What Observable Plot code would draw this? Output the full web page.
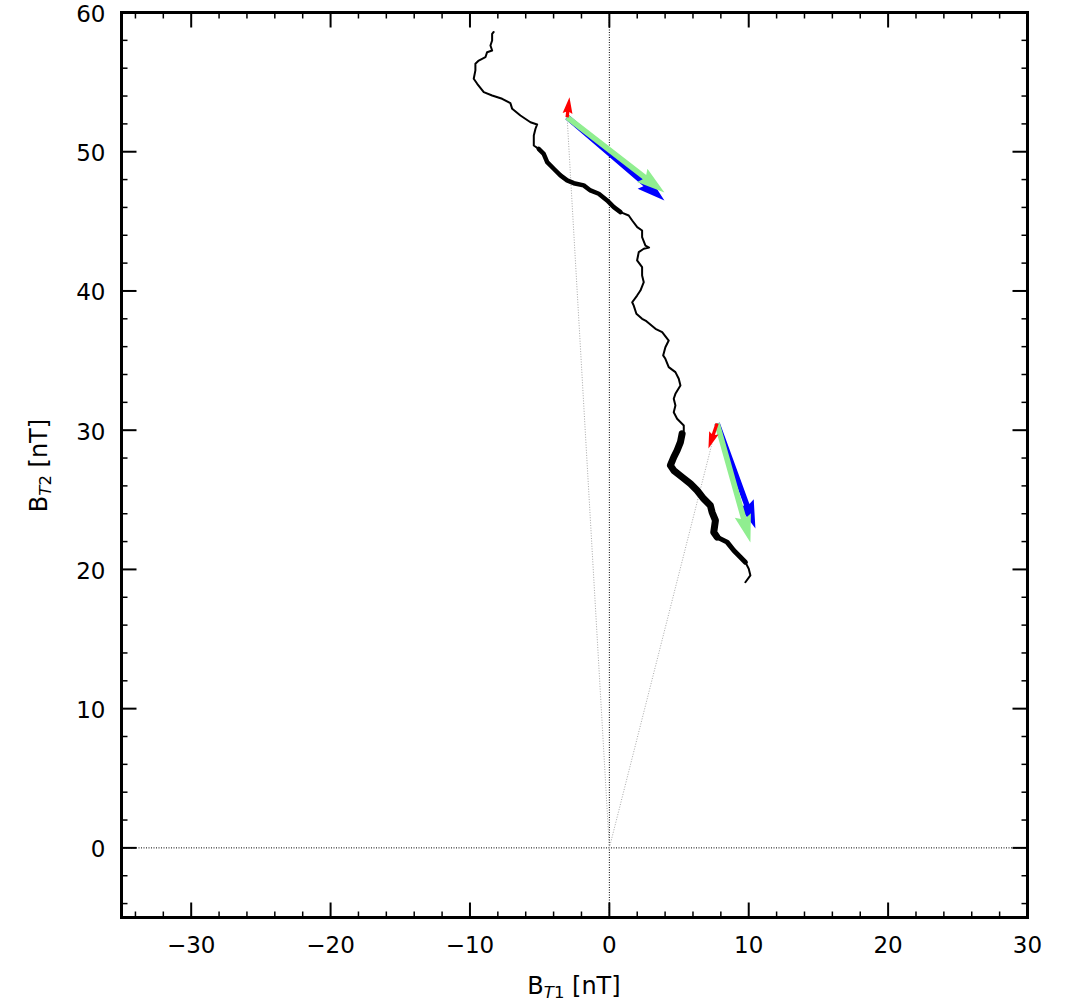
<!DOCTYPE html>
<html><head><meta charset="utf-8">
<script src="https://cdn.jsdelivr.net/npm/d3@7"></script>
<script src="https://cdn.jsdelivr.net/npm/@observablehq/plot@0.6"></script>
<style>
body{margin:0;background:#fff;}
#chart svg{display:block;}
</style></head><body><div id="chart"></div>
<script>
// ---- data ----
const trajX = [-8.30,-8.41,-8.41,-8.53,-8.41,-8.77,-8.89,-9.37,-9.61,-9.61,-9.73,-9.48,-9.01,-8.41,-7.69,-7.10,-6.97,-6.38,-5.66,-5.18,-5.30,-5.42,-5.42,-5.07,-4.71,-4.46,-3.99,-3.51,-3.03,-2.55,-1.84,-1.36,-0.76,-0.16,0.32,0.80,1.39,1.64,2.00,2.35,2.35,2.59,2.85,2.47,2.11,1.99,2.35,2.35,2.47,2.23,1.99,1.64,1.75,1.94,2.35,2.66,3.31,3.79,4.26,4.02,3.86,4.02,4.26,4.74,4.98,5.10,4.74,4.62,4.74,4.62,4.86,5.34,5.34,5.22,5.10,4.86,4.62,4.38,4.62,5.22,5.82,6.30,6.77,7.25,7.37,7.61,7.49,7.73,8.45,8.93,9.41,9.76,10.00,10.12,9.76];
const trajY = [58.60,58.47,57.99,57.63,57.27,57.15,56.79,56.55,56.32,55.84,55.24,54.88,54.28,54.04,53.80,53.49,53.08,52.60,52.12,51.96,51.65,51.17,50.45,50.21,49.85,49.25,48.78,48.30,47.94,47.74,47.58,47.22,46.98,46.50,46.02,45.66,45.42,45.06,44.58,44.34,43.86,43.26,43.12,43.03,42.79,42.19,41.71,41.11,40.63,40.03,39.67,39.19,38.95,38.36,38.00,37.83,37.28,37.04,36.44,35.96,35.37,35.13,34.53,34.17,33.69,33.21,32.61,32.26,31.78,31.29,30.82,30.34,29.98,29.74,29.14,28.54,28.06,27.47,27.11,26.63,26.15,25.67,25.07,24.59,24.11,23.52,22.67,22.32,21.96,21.36,20.88,20.52,20.05,19.57,19.08];
// index ranges of the marker-dense (thick) stretches
const thickSeg1 = [23, 35];
const thickSeg2 = [73, 87];
const thickSeg3 = [87, 91];

const arrowOriginX = [-3.03, 7.73];
const arrowOriginY = [52.48, 30.48];
const redTipX = [-2.86, 7.11];
const redTipY = [53.92, 28.69];
const blueTipX = [3.95, 10.48];
const blueTipY = [46.50, 22.94];
const greenTipX = [3.95, 10.12];
const greenTipY = [47.07, 21.93];

const xTicks = [-30, -20, -10, 0, 10, 20, 30];
const yTicks = [0, 10, 20, 30, 40, 50, 60];
const xDomain = [-35, 30];
const yDomain = [-5, 60];

// ---- layout ----
const W = 1072, H = 1003;
const mL = 121, mR = 45, mT = 12, mB = 86;
const kx = (W - mL - mR) / (xDomain[1] - xDomain[0]); // px per data unit

const traj = trajX.map((x, i) => ({x, y: trajY[i]}));
const seg = ([a, b]) => traj.slice(a, b + 1);

// quiver-style arrow outline (headwidth 3, headlength 5, headaxislength 4.5 shaft widths)
function arrowPoly(id, x0, y0, x1, y1, wpx) {
  let w = wpx / kx;
  const dx = x1 - x0, dy = y1 - y0, L = Math.hypot(dx, dy);
  if (L < 5 * w) w *= L / (5 * w);
  const ux = dx / L, uy = dy / L, vx = -uy, vy = ux;
  const hl = 5 * w, hal = 4.5 * w, hw = 1.5 * w, sw = w / 2;
  const pts = [[0, -sw], [L - hal, -sw], [L - hl, -hw], [L, 0], [L - hl, hw], [L - hal, sw], [0, sw]];
  return pts.map(([a, b]) => ({id, x: x0 + a * ux + b * vx, y: y0 + a * uy + b * vy}));
}
const arrows = (tx, ty, wpx, tag) => arrowOriginX.flatMap((x0, i) => arrowPoly(tag + i, x0, arrowOriginY[i], tx[i], ty[i], wpx));
const blueArrows = arrows(blueTipX, blueTipY, 5.6, "b");
const greenArrows = arrows(greenTipX, greenTipY, 5.6, "g");
const redArrows = arrows(redTipX, redTipY, 3.3, "r");

const guides = arrowOriginX.map((x, i) => ({x1: 0, y1: 0, x2: x, y2: arrowOriginY[i]}));

const minorX = d3.range(-34, 31, 2).filter(v => !xTicks.includes(v));
const minorY = d3.range(-4, 61, 2).filter(v => !yTicks.includes(v));
const sym = (dx, dy) => ({draw(ctx) { ctx.moveTo(0, 0); ctx.lineTo(dx, dy); }});
const MAJ = 15, MIN = 6;
const tickMarks = (vals, len, sw) => [
  Plot.dot(vals, {x: d => d, y: yDomain[0], symbol: sym(0, -len), fill: "none", stroke: "black", strokeWidth: sw}),
  Plot.dot(vals, {x: d => d, y: yDomain[1], symbol: sym(0, len), fill: "none", stroke: "black", strokeWidth: sw})
];
const tickMarksY = (vals, len, sw) => [
  Plot.dot(vals, {y: d => d, x: xDomain[0], symbol: sym(len, 0), fill: "none", stroke: "black", strokeWidth: sw}),
  Plot.dot(vals, {y: d => d, x: xDomain[1], symbol: sym(-len, 0), fill: "none", stroke: "black", strokeWidth: sw})
];
const fmt = d => d < 0 ? "\u2212" + Math.abs(d) : String(d);

const chart = Plot.plot({
  width: W, height: H,
  marginLeft: mL, marginRight: mR, marginTop: mT, marginBottom: mB,
  x: {domain: xDomain},
  y: {domain: yDomain},
  style: {fontFamily: "DejaVu Sans", fontSize: "23px", color: "black", background: "white"},
  marks: [
    Plot.ruleY([0], {stroke: "black", strokeWidth: 1, strokeDasharray: "1,1.5"}),
    Plot.ruleX([0], {stroke: "black", strokeWidth: 1, strokeDasharray: "1,1.5"}),
    Plot.link(guides, {x1: "x1", y1: "y1", x2: "x2", y2: "y2", stroke: "#a8a8a8", strokeWidth: 1, strokeDasharray: "1,1.6"}),
    Plot.line(traj, {x: "x", y: "y", stroke: "black", strokeWidth: 2}),
    Plot.line(seg(thickSeg1), {x: "x", y: "y", stroke: "black", strokeWidth: 4.5, strokeLinecap: "round"}),
    Plot.line(seg(thickSeg2), {x: "x", y: "y", stroke: "black", strokeWidth: 7, strokeLinecap: "round"}),
    Plot.line(seg(thickSeg3), {x: "x", y: "y", stroke: "black", strokeWidth: 5, strokeLinecap: "round"}),
    Plot.line(blueArrows, {x: "x", y: "y", z: "id", fill: "#0000ff", stroke: "none"}),
    Plot.line(greenArrows, {x: "x", y: "y", z: "id", fill: "#90ee90", stroke: "none"}),
    Plot.line(redArrows, {x: "x", y: "y", z: "id", fill: "#ff0000", stroke: "none"}),
    ...tickMarks(minorX, MIN, 1.5),
    ...tickMarks(xTicks, MAJ, 2),
    ...tickMarksY(minorY, MIN, 1.5),
    ...tickMarksY(yTicks, MAJ, 2),
    Plot.frame({stroke: "black", strokeWidth: 3}),
    Plot.axisX({ticks: xTicks, tickSize: 0, tickPadding: 19, tickFormat: fmt, label: null, fontSize: 23}),
    Plot.axisY({ticks: yTicks, tickSize: 0, tickPadding: 16, tickFormat: fmt, label: null, fontSize: 23, dy: 2})
  ]
});
document.getElementById("chart").appendChild(chart);

// axis titles with subscripts
const svg = d3.select(chart);
function title(sel, sub) {
  sel.attr("text-anchor", "middle").attr("font-family", "DejaVu Sans").attr("font-size", 24).attr("fill", "black");
  sel.append("tspan").text("B");
  sel.append("tspan").attr("font-size", 16.5).attr("font-style", "italic").attr("dy", 4).text("T");
  sel.append("tspan").attr("font-size", 16.5).text(sub);
  sel.append("tspan").attr("dy", -4).text(" [nT]");
}
title(svg.append("text").attr("x", (mL + W - mR) / 2).attr("y", 994), "1");
title(svg.append("text").attr("transform", `translate(47,${(mT + H - mB) / 2 + 1}) rotate(-90)`), "2");
</script>
</body></html>
